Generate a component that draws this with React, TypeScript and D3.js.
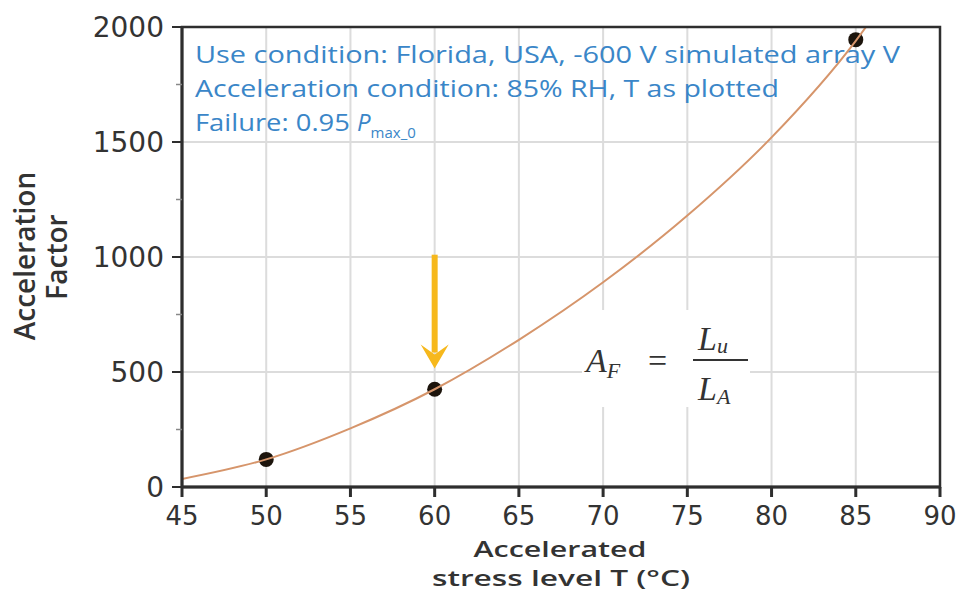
import React from "react";
import * as d3 from "d3";

const xTicks = [45, 50, 55, 60, 65, 70, 75, 80, 85, 90];
const yTicks = [0, 500, 1000, 1500, 2000];
const yMinorTicks = [250, 750, 1250, 1750];
const curveT = [45, 50, 55, 60, 65, 70, 75, 80, 85, 86];
const curveAF = [35, 120, 255, 425, 640, 890, 1180, 1520, 1940, 2040];
const pointT = [50, 60, 85];
const pointAF = [120, 425, 1945];
const arrowT = 60;
const arrowFrom = 1010;
const arrowTo = 515;
const noteLines = [
  "Use condition: Florida, USA, -600 V simulated array V",
  "Acceleration condition: 85% RH, T as plotted",
];
const failureLabel = "Failure: 0.95 ";

const W = 975;
const H = 592;
const M = { left: 182, right: 35, top: 27, bottom: 105 };

export default function App() {
  const x = d3.scaleLinear().domain([45, 90]).range([M.left, W - M.right]);
  const y = d3.scaleLinear().domain([0, 2000]).range([H - M.bottom, M.top]);
  const curveData = curveT.map((t, i) => [t, curveAF[i]] as [number, number]);
  const line = d3
    .line<[number, number]>()
    .x((d) => x(d[0]))
    .y((d) => y(d[1]))
    .curve(d3.curveMonotoneX);
  const x0 = x(45);
  const x1 = x(90);
  const y0 = y(0);
  const y1 = y(2000);
  const axisColor = "#2e2e2e";
  const tickFont = "'DejaVu Sans', sans-serif";
  const titleFont = "'Open Sans', sans-serif";
  const blue = "#3a86c8";
  const ax = x(arrowT);
  const ayTop = y(arrowFrom);
  const ayTip = y(arrowTo);
  return (
    <svg
      width={W}
      height={H}
      style={{ position: "absolute", left: 0, top: 0, display: "block", background: "#fff" }}
    >
      <defs>
        <clipPath id="plotclip">
          <rect x={x0} y={y1} width={x1 - x0} height={y0 - y1} />
        </clipPath>
      </defs>
      {/* grid */}
      {xTicks.slice(1, -1).map((t) => (
        <line key={"gx" + t} x1={x(t)} x2={x(t)} y1={y1} y2={y0} stroke="#dcdcdc" strokeWidth={2} />
      ))}
      {yTicks.slice(1, -1).map((t) => (
        <line key={"gy" + t} x1={x0} x2={x1} y1={y(t)} y2={y(t)} stroke="#dcdcdc" strokeWidth={2} />
      ))}
      {/* equation background */}
      <rect x={582} y={310} width={168} height={97} fill="#fff" />
      {/* notes */}
      {noteLines.map((s, i) => (
        <text
          key={"n" + i}
          x={195}
          y={63 + i * 34}
          fill={blue}
          fontFamily={titleFont}
          fontSize={24}
          textLength={i === 0 ? 705 : 584}
          lengthAdjust="spacingAndGlyphs"
        >
          {s}
        </text>
      ))}
      <text x={195} y={131} fill={blue} fontFamily={titleFont} fontSize={24}>
        <tspan textLength={162} lengthAdjust="spacingAndGlyphs">{failureLabel}</tspan>
        <tspan fontStyle="italic">P</tspan>
        <tspan fontSize={15} dy={7}>max_0</tspan>
      </text>
      {/* arrow */}
      <line x1={ax} x2={ax} y1={ayTop} y2={ayTip - 16} stroke="#f6b81c" strokeWidth={6} />
      <path
        d={`M${ax - 14},${ayTip - 24} L${ax},${ayTip - 14} L${ax + 14},${ayTip - 24} L${ax},${ayTip} Z`}
        fill="#f6b81c"
      />
      {/* curve */}
      {pointT.map((t, i) => (
        <circle key={"p" + t} cx={x(t)} cy={y(pointAF[i])} r={7.5} fill="#1c140c" clipPath="url(#plotclip)" />
      ))}
      <path d={line(curveData) || ""} fill="none" stroke="#d6956b" strokeWidth={2} clipPath="url(#plotclip)" />
      {/* equation */}
      <g fontFamily="'Liberation Serif', serif" fill="#333">
        <text x={586} y={372} fontSize={34} fontStyle="italic">
          A<tspan fontSize={22} dy={6}>F</tspan>
        </text>
        <text x={648} y={372} fontSize={34}>=</text>
        <line x1={693} x2={748} y1={360} y2={360} stroke="#333" strokeWidth={2} />
        <text x={698} y={350} fontSize={34} fontStyle="italic">
          L<tspan fontSize={22} dy={3}>u</tspan>
        </text>
        <text x={698} y={400} fontSize={34} fontStyle="italic">
          L<tspan fontSize={22} dy={4}>A</tspan>
        </text>
      </g>
      {/* frame */}
      <rect x={x0} y={y1} width={x1 - x0} height={y0 - y1} fill="none" stroke={axisColor} strokeWidth={2.5} />
      <line x1={x0} x2={x0} y1={y1} y2={y0} stroke={axisColor} strokeWidth={3} />
      <line x1={x0} x2={x1} y1={y0} y2={y0} stroke={axisColor} strokeWidth={3} />
      {/* y ticks */}
      {yTicks.map((t) => (
        <g key={"yt" + t}>
          <line x1={x0 - 10} x2={x0} y1={y(t)} y2={y(t)} stroke={axisColor} strokeWidth={2} />
          <text
            x={x0 - 18}
            y={y(t)}
            dy="0.36em"
            textAnchor="end"
            fontFamily={tickFont}
            fontSize={28}
            fill="#333"
          >
            {t}
          </text>
        </g>
      ))}
      {yMinorTicks.map((t) => (
        <line key={"ym" + t} x1={x0 - 6} x2={x0} y1={y(t)} y2={y(t)} stroke="#888" strokeWidth={1.5} />
      ))}
      {/* x ticks */}
      {xTicks.map((t) => (
        <g key={"xt" + t}>
          <line x1={x(t)} x2={x(t)} y1={y0} y2={y0 + 10} stroke={axisColor} strokeWidth={3} />
          <text
            x={x(t)}
            y={y0 + 38}
            textAnchor="middle"
            fontFamily={tickFont}
            fontSize={26}
            fill="#333"
          >
            {t}
          </text>
        </g>
      ))}
      {/* axis titles */}
      <g fontFamily={titleFont} fontWeight={600} fill="#333">
        <text x={560} y={557} textAnchor="middle" fontSize={21} textLength={173} lengthAdjust="spacingAndGlyphs">
          Accelerated
        </text>
        <text x={561} y={586} textAnchor="middle" fontSize={21} textLength={258} lengthAdjust="spacingAndGlyphs">
          stress level T (°C)
        </text>
        <text transform="translate(35,256) rotate(-90)" textAnchor="middle" fontSize={28}>
          Acceleration
        </text>
        <text transform="translate(67,257) rotate(-90)" textAnchor="middle" fontSize={28}>
          Factor
        </text>
      </g>
    </svg>
  );
}
